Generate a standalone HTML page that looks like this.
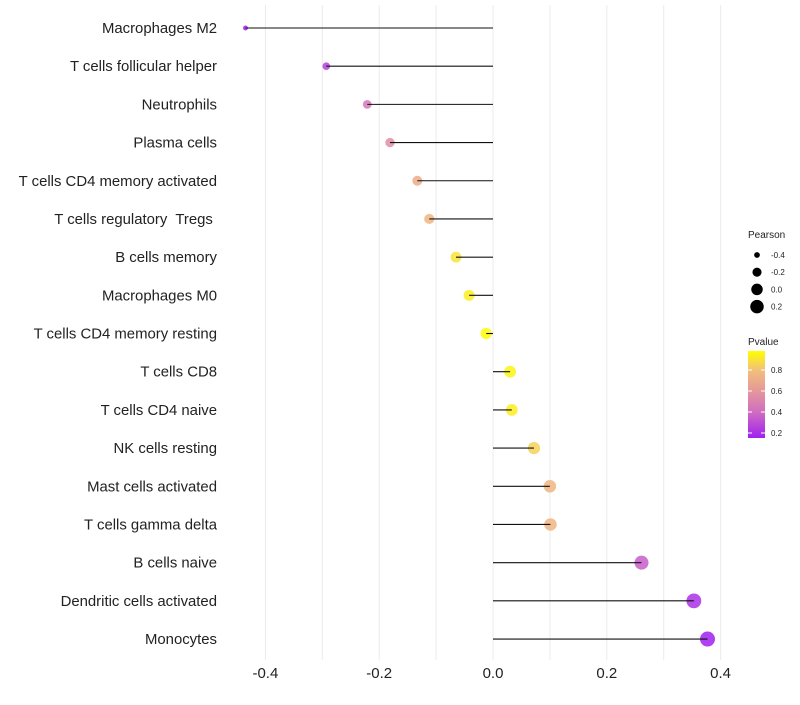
<!DOCTYPE html>
<html><head><meta charset="utf-8"><style>
body{margin:0;background:#fff;font-family:"Liberation Sans",sans-serif}
text{white-space:pre}
</style></head><body>
<svg id="chart" width="800" height="700"></svg>
<script>
const categories=["Macrophages M2","T cells follicular helper","Neutrophils","Plasma cells","T cells CD4 memory activated","T cells regulatory  Tregs ","B cells memory","Macrophages M0","T cells CD4 memory resting","T cells CD8","T cells CD4 naive","NK cells resting","Mast cells activated","T cells gamma delta","B cells naive","Dendritic cells activated","Monocytes"];
const pearson=[-0.435,-0.293,-0.221,-0.181,-0.133,-0.112,-0.065,-0.042,-0.012,0.030,0.033,0.072,0.100,0.101,0.261,0.353,0.377];
const pvalue=[0.12,0.25,0.45,0.55,0.7,0.75,0.9,0.93,0.97,0.95,0.93,0.85,0.75,0.75,0.35,0.2,0.15];
const xTicks=[-0.4,-0.2,0.0,0.2,0.4];
const sizeLegend=[-0.4,-0.2,0.0,0.2];
const pLegend=[0.8,0.6,0.4,0.2];
const NS="http://www.w3.org/2000/svg";
const svg=document.getElementById('chart');
function X(v){return 493+v*569;}
function Y(i){return 28+i*38.19;}
function R(v){return Math.sqrt(Math.max(3,33+62*v));}
const stops=[[0.15,[160,32,240]],[0.4,[208,110,192]],[0.6,[229,152,154]],[0.8,[242,192,122]],[0.98,[255,255,0]]];
function col(p){if(p<=stops[0][0])return 'rgb('+stops[0][1]+')';for(let k=1;k<stops.length;k++){if(p<=stops[k][0]){const a=stops[k-1],b=stops[k],t=(p-a[0])/(b[0]-a[0]);return 'rgb('+a[1].map((c,j)=>Math.round(c+(b[1][j]-c)*t)).join(',')+')';}}return 'rgb(255,255,0)';}
function el(tag,attrs,parent){const e=document.createElementNS(NS,tag);for(const k in attrs)e.setAttribute(k,attrs[k]);(parent||svg).appendChild(e);return e;}
for(let v=-0.4;v<=0.401;v+=0.1){const g=el('line',{x1:X(v),x2:X(v),y1:5,y2:660,stroke:'#ebebeb','stroke-width':1});

}
xTicks.forEach(v=>{const t=el('text',{x:X(v),y:678,'text-anchor':'middle','font-size':15,fill:'#222'});t.textContent=v.toFixed(1);

});
categories.forEach((c,i)=>{
const t=el('text',{x:217,y:Y(i)+5,'text-anchor':'end','font-size':14.9,fill:'#222'});t.textContent=c;


const p=el('circle',{cx:X(pearson[i]),cy:Y(i),r:R(pearson[i]),fill:col(pvalue[i]),'fill-opacity':0.85});


const l=el('line',{x1:X(0),x2:X(pearson[i]),y1:Y(i),y2:Y(i),stroke:'#111','stroke-width':1.1});


});
const lt=el('text',{x:748,y:238,'font-size':10,fill:'#222'});lt.textContent='Pearson';


sizeLegend.forEach((v,i)=>{const y=255+i*17.2;
const c=el('circle',{cx:757,cy:y,r:R(v),fill:'#000'});


const t=el('text',{x:771,y:y+3,'font-size':8,fill:'#222'});t.textContent=v.toFixed(1);

});
const pt=el('text',{x:748,y:345,'font-size':10,fill:'#222'});pt.textContent='Pvalue';


const defs=el('defs',{});const lg=el('linearGradient',{id:'pg',x1:0,y1:1,x2:0,y2:0},defs);
stops.forEach(s=>el('stop',{offset:((s[0]-0.15)/0.83),'stop-color':col(s[0])},lg));
const bar=el('rect',{x:748,y:351,width:17,height:87,fill:'url(#pg)'});


pLegend.forEach(v=>{const y=433-(v-0.2)/0.2*21;
el('line',{x1:748,x2:752,y1:y,y2:y,stroke:'#fff'});el('line',{x1:761,x2:765,y1:y,y2:y,stroke:'#fff'});
const t=el('text',{x:771,y:y+3,'font-size':8,fill:'#222'});t.textContent=v.toFixed(1);

});
</script>
</body></html>
